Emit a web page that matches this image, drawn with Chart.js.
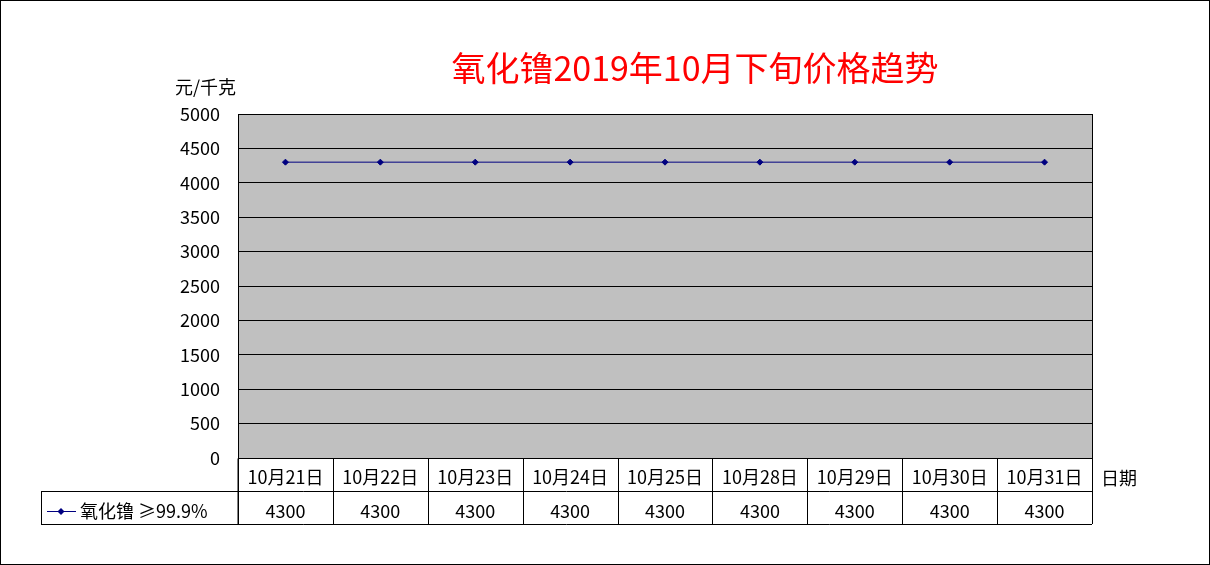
<!DOCTYPE html>
<html><head><meta charset="utf-8">
<script src="https://cdn.jsdelivr.net/npm/chart.js@4/dist/chart.umd.min.js"></script>
<style>html,body{margin:0;padding:0;background:#fff}#c{display:block}</style>
</head><body>
<div style="width:1210px;height:565px"><canvas id="c"></canvas></div>
<script>
const categories = ["10月21日","10月22日","10月23日","10月24日","10月25日","10月28日","10月29日","10月30日","10月31日"];
const prices = [4300,4300,4300,4300,4300,4300,4300,4300,4300];
const seriesName = "氧化镥 ≥99.9%";
const titleText = "氧化镥2019年10月下旬价格趋势";
const yUnit = "元/千克";
const xUnit = "日期";

const FONT = '"Noto Sans CJK SC", "Liberation Sans", sans-serif';

// draws title, plot background, category boxes and data table
const excelLook = {
  id: "excelLook",
  beforeDraw(chart) {
    const { ctx, chartArea: a } = chart;
    ctx.save();
    ctx.fillStyle = "#fff";
    ctx.fillRect(0, 0, chart.width, chart.height);
    ctx.fillStyle = "#c0c0c0";
    ctx.fillRect(a.left, a.top, a.right - a.left, a.bottom - a.top);
    ctx.restore();
  },
  afterDraw(chart) {
    const { ctx, chartArea: a } = chart;
    const x = chart.scales.x;
    const step = (a.right - a.left) / categories.length;
    const rowTop = a.bottom + 33, rowBot = a.bottom + 66, tableLeft = 41;
    ctx.save();
    ctx.strokeStyle = "#000";
    ctx.lineWidth = 1;
    ctx.strokeRect(Math.round(a.left) + 0.5, Math.round(a.top) + 0.5, Math.round(a.right - a.left), Math.round(a.bottom - a.top));
    ctx.beginPath();
    ctx.moveTo(a.left, a.bottom + 0.5); ctx.lineTo(a.left, rowBot);
    ctx.moveTo(tableLeft + 0.5, rowTop); ctx.lineTo(tableLeft + 0.5, rowBot);
    ctx.moveTo(tableLeft, rowTop + 0.5); ctx.lineTo(a.right, rowTop + 0.5);
    ctx.moveTo(tableLeft, rowBot + 0.5); ctx.lineTo(a.right, rowBot + 0.5);
    for (let i = 0; i <= categories.length; i++) {
      const px = Math.round(a.left + i * step) + 0.5;
      ctx.moveTo(px, a.bottom); ctx.lineTo(px, rowBot);
    }
    ctx.stroke();

    ctx.fillStyle = "#000";
    ctx.font = "18px " + FONT;
    ctx.textAlign = "center";
    ctx.textBaseline = "middle";
    categories.forEach((c, i) => {
      const cx = x.getPixelForValue(i);
      ctx.fillText(c, cx, a.bottom + 19);
      ctx.fillText(String(prices[i]), cx, rowTop + 20);
    });
    ctx.textAlign = "left";
    ctx.fillText(xUnit, a.right + 9, a.bottom + 20);
    ctx.fillText(yUnit, 175, 87);
    ctx.strokeStyle = "#000080";
    ctx.beginPath(); ctx.moveTo(47, rowTop + 20.5); ctx.lineTo(76, rowTop + 20.5); ctx.stroke();
    ctx.fillStyle = "#000080";
    ctx.beginPath();
    ctx.moveTo(61, rowTop + 17); ctx.lineTo(64.5, rowTop + 20.5); ctx.lineTo(61, rowTop + 24); ctx.lineTo(57.5, rowTop + 20.5);
    ctx.closePath(); ctx.fill();
    ctx.fillStyle = "#000";
    ctx.fillText(seriesName, 80, rowTop + 20);
    ctx.fillStyle = "#ff0000";
    ctx.font = "34px " + FONT;
    ctx.textAlign = "center";
    ctx.fillText(titleText, 695, 68);
    ctx.strokeStyle = "#000";
    ctx.strokeRect(0.5, 0.5, chart.width - 1, chart.height - 1);
    ctx.restore();
  }
};

new Chart(document.getElementById("c"), {
  type: "line",
  data: {
    labels: categories,
    datasets: [{
      label: seriesName,
      data: prices,
      borderColor: "#000080",
      backgroundColor: "#000080",
      borderWidth: 1,
      pointStyle: "rectRot",
      pointRadius: 3,
      tension: 0
    }]
  },
  options: {
    responsive: true,
    maintainAspectRatio: false,
    animation: false,
    devicePixelRatio: 1,
    layout: { padding: { top: 114, right: 118, left: 0, bottom: 0 } },
    plugins: { legend: { display: false }, tooltip: { enabled: false } },
    scales: {
      x: {
        offset: true,
        ticks: { display: false },
        grid: { display: false },
        border: { display: false },
        afterFit(s) { s.height = 107; }
      },
      y: {
        min: 0, max: 5000,
        ticks: { stepSize: 500, color: "#000", font: { size: 18, family: FONT }, padding: 18,
                 callback: v => String(v) },
        grid: { color: "#000", drawTicks: false },
        border: { display: false },
        afterFit(s) { s.width = 238; }
      }
    }
  },
  plugins: [excelLook]
});
</script>
</body></html>
